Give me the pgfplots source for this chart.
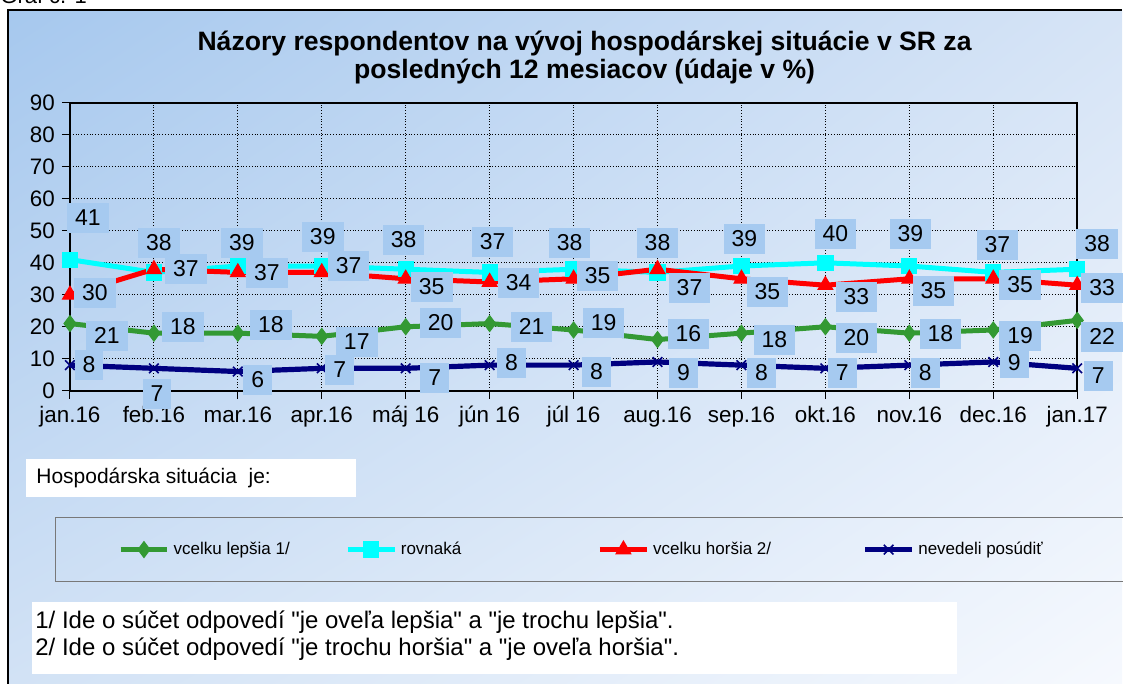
\documentclass[border=0pt]{standalone}
\usepackage{fontspec}
\setmainfont{Liberation Sans}[Ligatures=TeXOff]
\usepackage{pgfplots}
\pgfplotsset{compat=1.18}
\usepackage{pgfplotstable}
\usetikzlibrary{shadings}

\definecolor{cgreen}{RGB}{51,153,51}
\definecolor{ccyan}{RGB}{0,255,255}
\definecolor{cred}{RGB}{255,0,0}
\definecolor{cnavy}{RGB}{0,0,128}
\definecolor{lblbox}{RGB}{166,202,240}
\definecolor{bgUL}{RGB}{166,200,238}
\definecolor{bgUR}{RGB}{214,228,246}
\definecolor{bgLL}{RGB}{210,226,245}
\definecolor{bgLR}{RGB}{246,249,254}
\definecolor{legframe}{RGB}{120,120,120}

\pgfplotsset{
  lbl/.style={forget plot, draw=none, mark=none, point meta=explicit symbolic,
    nodes near coords={\fontsize{11.5}{12}\selectfont\pgfplotspointmeta},
    nodes near coords style={anchor=center, fill=lblbox, text=black,
      inner xsep=4pt, inner ysep=0pt, minimum height=15pt, minimum width=14pt}},
}

% values (as plotted)
\pgfplotstableread{
x lep rov hor nev
0  21 41 30 8
1  18 37 38 7
2  18 39 37 6
3  17 39 37 7
4  20 38 35 7
5  21 37 34 8
6  19 38 35 8
7  16 37 38 9
8  18 39 35 8
9  20 40 33 7
10 18 39 35 8
11 19 37 35 9
12 22 38 33 7
}\data

% data labels: position (axis units) and printed text
\pgfplotstableread{
x y t
0.214 54.1 41
1.06 46.3 38
2.048 46.3 39
3.012 48.1 39
3.976 47.2 38
5.036 46.6 37
5.952 46.3 38
7.0 46.3 38
8.036 47.5 39
9.119 49.1 40
10.012 49.1 39
11.048 45.6 37
12.238 45.9 38
}\labrov

\pgfplotstableread{
x y t
0.298 30.6 30
1.381 38.1 37
2.345 36.9 37
3.321 39.1 37
4.31 32.5 35
5.345 33.75 34
6.286 35.9 35
7.381 32.2 37
8.31 30.9 35
9.369 29.4 33
10.286 31.25 35
11.321 33.1 35
12.298 32.2 33
}\labhor

\pgfplotstableread{
x y t
0.44 17.2 21
1.345 20.0 18
2.393 20.6 18
3.417 15.3 17
4.417 21.25 20
5.5 20.0 21
6.357 21.25 19
7.369 17.8 16
8.393 15.9 18
9.369 16.6 20
10.369 17.8 18
11.321 17.2 19
12.298 16.9 22
}\lablep

\pgfplotstableread{
x y t
0.226 8.1 8
1.036 -0.9 7
2.238 3.4 6
3.214 6.6 7
4.345 4.1 7
5.262 8.75 8
6.274 5.9 8
7.31 5.6 9
8.238 5.6 8
9.202 5.6 7
10.19 5.6 8
11.25 8.75 9
12.25 4.7 7
}\labnev

\begin{document}
\begin{tikzpicture}
\begin{scope}[x=0.5pt,y=-0.5pt]
\useasboundingbox (0,0) rectangle (1123,684);
\shade[upper left=bgUL, upper right=bgUR, lower left=bgLL, lower right=bgLR] (8,10) rectangle (1123,684);
\draw[black, line width=0.6pt] (8,684) -- (8,10) -- (1123,10);
\node[anchor=base west, inner sep=0, font=\fontsize{11}{13}\selectfont] at (0,4) {Graf č. 1};
\node[align=center, font=\bfseries\fontsize{13.3}{14}\selectfont] at (585,58)
  {Názory respondentov na vývoj hospodárskej situácie v SR za\\posledných 12 mesiacov (údaje v \%)};
% text box
\fill[white] (26,459) rectangle (356,497);
\node[anchor=west, inner sep=0, font=\fontsize{10.5}{12}\selectfont] at (36,478) {Hospodárska situácia~ je:};
% legend frame
\draw[legframe, line width=0.5pt] (1130,518) -- (56,518) -- (56,582) -- (1130,582);
% footnotes
\fill[white] (32,602) rectangle (958,674);
\node[anchor=west, inner sep=0, align=left, font=\fontsize{12}{13.5}\selectfont] at (35,636)
  {1/ Ide o súčet odpovedí "je oveľa lepšia" a "je trochu lepšia".\\2/ Ide o súčet odpovedí "je trochu horšia" a "je oveľa horšia".};
\end{scope}

\begin{axis}[
  at={(35pt,-195.5pt)}, anchor=south west,
  scale only axis, width=504pt, height=144pt,
  xmin=0, xmax=12, ymin=0, ymax=90,
  xtick={0,...,12},
  xticklabels={jan.16,feb.16,mar.16,apr.16,máj 16,jún 16,júl 16,aug.16,sep.16,okt.16,nov.16,dec.16,jan.17},
  ytick={0,10,...,90},
  grid=major,
  major grid style={black, densely dotted, line width=0.5pt},
  axis line style={black, line width=1pt},
  tick style={black, line width=0.5pt},
  tick align=outside, major tick length=4pt,
  tick pos=left,
  ticklabel style={font=\fontsize{11.2}{12}\selectfont},
  xticklabel style={text height=8.4pt, text depth=2.4pt, inner ysep=3.5pt},
  /pgf/number format/assume math mode=true,
  clip=false,
  legend columns=4,
  legend style={at={(0.0476,-0.552)}, anchor=west, draw=none, fill=none,
    inner sep=0pt, font=\fontsize{8.5}{10}\selectfont,
    /tikz/every even column/.style={column sep=0pt}},
  legend image code/.code={\draw[mark repeat=2,mark phase=2,#1,line width=2.2pt]
     plot coordinates {(0pt,0pt)(11.75pt,0pt)(23.5pt,0pt)};},
]
\addplot[cgreen, line width=2.5pt, mark=diamond*, mark size=4pt, mark options={solid, line width=0.5pt}]
  table[x=x,y=lep] {\data};
\addlegendentry{\makebox[84pt][l]{vcelku lepšia 1/}}
\addplot[ccyan, line width=2.5pt, mark=square*, mark size=3.8pt, mark options={solid, line width=0.5pt}]
  table[x=x,y=rov] {\data};
\addlegendentry{\makebox[96.5pt][l]{rovnaká}}
\addplot[cred, line width=2.5pt, mark=triangle*, mark size=4.3pt, mark options={solid, line width=0.5pt}]
  table[x=x,y=hor] {\data};
\addlegendentry{\makebox[103pt][l]{vcelku horšia 2/}}
\addplot[cnavy, line width=2.6pt, mark=x, mark size=3.4pt, mark options={solid, line width=0.8pt}]
  table[x=x,y=nev] {\data};
\addlegendentry{nevedeli posúdiť}

\addplot[lbl] table[x=x,y=y,meta=t] {\labrov};
\addplot[lbl] table[x=x,y=y,meta=t] {\labhor};
\addplot[lbl] table[x=x,y=y,meta=t] {\lablep};
\addplot[lbl] table[x=x,y=y,meta=t] {\labnev};
\end{axis}
\end{tikzpicture}
\end{document}
